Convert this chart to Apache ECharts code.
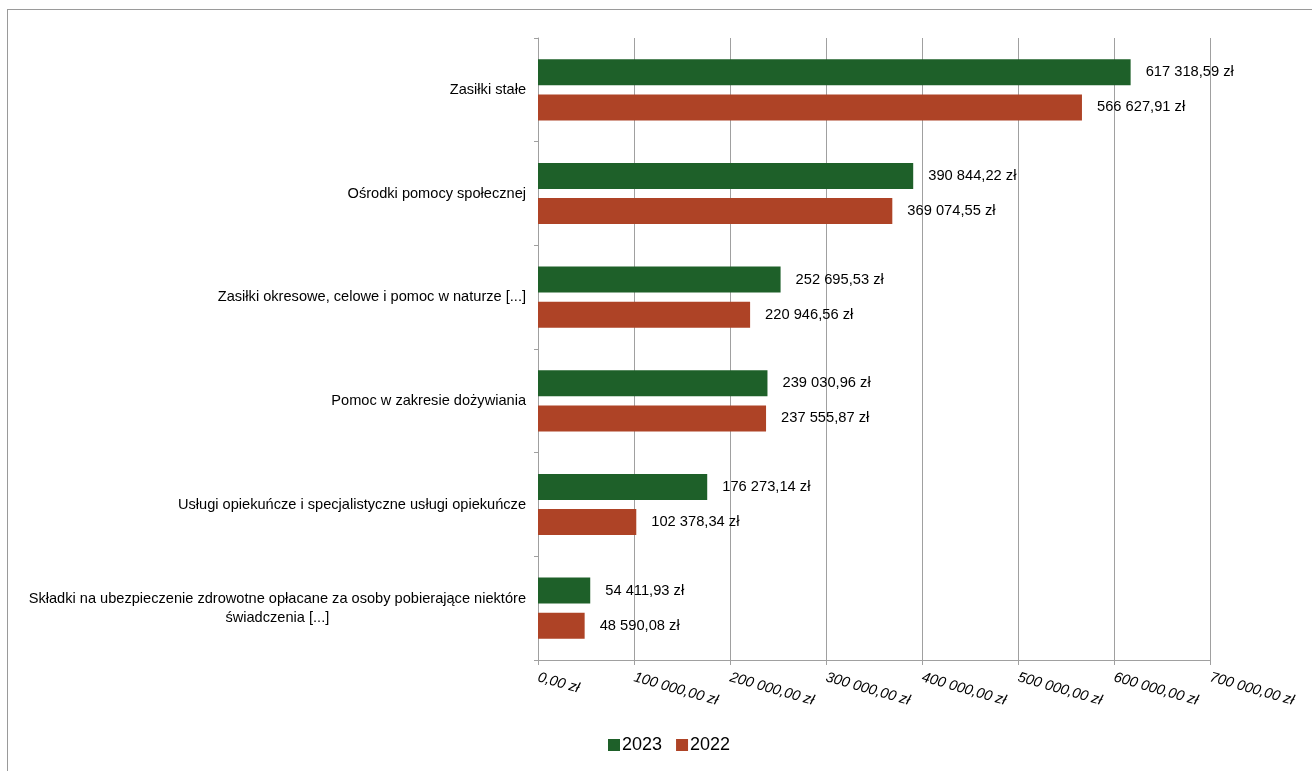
<!DOCTYPE html>
<html><head><meta charset="utf-8">
<script src="https://cdn.jsdelivr.net/npm/echarts@6/dist/echarts.min.js"></script>
<style>
html,body{margin:0;padding:0;background:#fff;}
#frame{position:absolute;left:7px;top:9px;width:1400px;height:900px;border-left:1px solid #9a9a9a;border-top:1px solid #9a9a9a;}
#c{position:absolute;left:0;top:0;width:1312px;height:771px;}
</style></head>
<body>
<div id="frame"></div>
<div id="c"></div>
<script>
const categories = [
  'Zasiłki stałe',
  'Ośrodki pomocy społecznej',
  'Zasiłki okresowe, celowe i pomoc w naturze [...]',
  'Pomoc w zakresie dożywiania',
  'Usługi opiekuńcze i specjalistyczne usługi opiekuńcze',
  'Składki na ubezpieczenie zdrowotne opłacane za osoby pobierające niektóre\nświadczenia [...]'
];
const values2023 = [617318.59, 390844.22, 252695.53, 239030.96, 176273.14, 54411.93];
const values2022 = [566627.91, 369074.55, 220946.56, 237555.87, 102378.34, 48590.08];
const seriesNames = ['2023', '2022'];

function fmt(v) {
  const parts = v.toFixed(2).split('.');
  const intPart = parts[0].replace(/\B(?=(\d{3})+(?!\d))/g, ' ');
  return intPart + ',' + parts[1] + ' zł';
}

const FONT = 'Liberation Sans, Arial, sans-serif';
const chart = echarts.init(document.getElementById('c'));
const labelStyle = {
  show: true, position: 'right', distance: 15,
  color: '#000', fontSize: 14.7, fontFamily: FONT,
  formatter: p => fmt(p.value)
};
chart.setOption({
  backgroundColor: 'transparent',
  animation: false,
  grid: { left: 538, right: 102, top: 38, bottom: 111, containLabel: false },
  legend: {
    top: 731, left: 603,
    itemWidth: 12, itemHeight: 12, itemGap: 14,
    icon: 'rect',
    textStyle: { fontSize: 18, color: '#000', fontFamily: FONT, padding: [0,0,0,-3] },
    data: seriesNames
  },
  xAxis: {
    type: 'value', min: 0, max: 700000, interval: 100000,
    axisLine: { show: true, lineStyle: { color: '#a0a0a0', width: 1 } },
    axisTick: { show: true, length: 5, lineStyle: { color: '#a0a0a0' } },
    splitLine: { show: true, lineStyle: { color: '#a0a0a0', width: 1 } },
    axisLabel: {
      rotate: -16, margin: 17, fontStyle: 'italic', fontSize: 14.5, color: '#000',
      fontFamily: FONT,
      formatter: v => fmt(v)
    }
  },
  yAxis: {
    type: 'category', data: categories, inverse: true,
    axisLine: { show: true, lineStyle: { color: '#a0a0a0', width: 1 } },
    axisTick: { show: true, length: 4, lineStyle: { color: '#a0a0a0' } },
    axisLabel: {
      margin: 12, fontSize: 14.6, color: '#000', lineHeight: 19,
      fontFamily: FONT,
      formatter: v => v.split('\n').map(s => '{c|' + s + '}').join('\n'),
      rich: { c: { align: 'center', fontSize: 14.6, color: '#000', lineHeight: 19, fontFamily: FONT } }
    }
  },
  series: [
    { name: seriesNames[0], type: 'bar', data: values2023, barWidth: 26, barGap: '35%',
      itemStyle: { color: '#1e6029' }, label: labelStyle },
    { name: seriesNames[1], type: 'bar', data: values2022, barWidth: 26, barGap: '35%',
      itemStyle: { color: '#ae4326' }, label: labelStyle }
  ]
});
</script>
</body></html>
